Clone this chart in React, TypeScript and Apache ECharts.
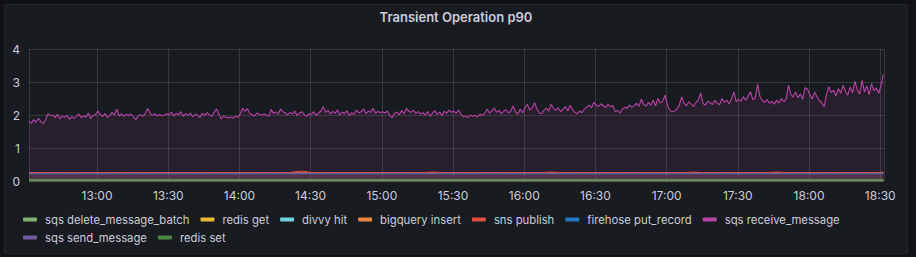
import React, { useEffect, useRef } from "react";
import * as echarts from "echarts";

// ---- data ----
const TITLE = "Transient Operation p90";
const SERIES_NAMES = [
  "sqs delete_message_batch",
  "redis get",
  "divvy hit",
  "bigquery insert",
  "sns publish",
  "firehose put_record",
  "sqs receive_message",
  "sqs send_message",
  "redis set",
];
const SERIES_COLORS = [
  "#7EB26D",
  "#EAB839",
  "#6ED0E0",
  "#EF843C",
  "#E24D42",
  "#1F78C1",
  "#BA43A9",
  "#705DA0",
  "#508642",
];
const Y_TICKS = [0, 1, 2, 3, 4];

// sqs receive_message, one value per minute starting 12:31:20
const receiveMessage = [
  // 12:31 - 12:59
  1.82, 1.75, 1.86, 1.78, 1.9, 1.8, 1.74, 1.85, 2.04, 1.98, 2.0, 1.92, 2.02, 1.88, 1.97, 1.93, 1.99, 1.87, 1.95, 1.9, 1.96, 2.03, 1.91, 1.98, 1.94, 2.06, 1.89, 1.99, 2.01,
  // 13:00
  2.12, 2.02, 1.95, 2.05, 1.93, 1.98, 2.08, 2.0, 2.18, 1.97, 2.04, 1.96, 2.02, 1.99, 2.03, 1.94, 1.86, 1.98, 2.01, 1.96, 2.05, 2.2, 2.06, 1.99, 2.04, 1.97, 2.02, 1.98, 2.0, 2.03,
  // 13:30
  2.02, 2.08, 1.97, 2.05, 2.01, 2.1, 1.96, 2.04, 1.99, 2.06, 1.94, 2.03, 2.0, 1.92, 2.05, 1.98, 2.07, 2.01, 1.95, 2.09, 2.18, 2.03, 1.88, 1.97, 1.93, 1.92, 1.94, 1.91, 1.96, 1.93,
  // 14:00
  2.04, 2.2, 2.12, 2.19, 2.05, 2.01, 1.97, 2.06, 2.02, 1.99, 2.04, 2.0, 1.96, 2.17, 2.05, 2.09, 2.02, 2.18, 2.1, 2.06, 2.0, 2.08, 2.03, 2.12, 1.98, 2.06, 2.1, 2.01, 1.96, 2.04,
  // 14:30
  2.02, 2.1, 1.99, 2.06, 2.12, 2.25, 2.08, 2.14, 2.03, 2.11, 2.05, 2.16, 2.0, 2.09, 2.04, 2.13, 1.98, 2.07, 2.02, 2.15, 2.06, 2.1, 2.18, 2.04, 2.12, 2.08, 2.2, 2.05, 2.11, 2.07,
  // 15:00
  2.1, 2.06, 2.12, 1.98, 1.92, 2.05, 2.09, 2.0, 2.14, 2.03, 2.2, 2.12, 2.08, 2.15, 2.05, 2.1, 2.03, 2.07, 2.0, 2.11, 1.96, 2.06, 2.13, 2.02, 2.09, 1.98, 2.12, 2.05, 2.15, 2.08,
  // 15:30
  2.12, 2.05, 2.15, 2.02, 1.95, 1.97, 1.92, 2.0, 1.96, 1.99, 1.94, 2.03, 1.98, 2.05, 2.18, 2.06, 2.12, 2.22, 2.08, 2.14, 2.04, 2.11, 2.16, 2.06, 2.12, 2.27, 2.09, 2.03, 2.18, 2.06,
  // 16:00
  2.24, 2.32, 2.15, 2.22, 2.37, 2.18, 2.06, 2.04, 2.15, 2.21, 2.12, 2.33, 2.19, 2.14, 2.22, 2.1, 2.17, 2.26, 2.13, 2.3, 2.16, 2.08, 2.04, 2.12, 2.07, 2.18, 2.24, 2.3, 2.22, 2.38,
  // 16:30
  2.3, 2.26, 2.34, 2.28, 2.22, 2.32, 2.25, 2.29, 2.1, 2.14, 2.06, 2.18, 2.24, 2.2, 2.3, 2.23, 2.28, 2.35, 2.26, 2.48, 2.32, 2.27, 2.38, 2.3, 2.45, 2.28, 2.5, 2.36, 2.42, 2.6,
  // 17:00
  2.3, 2.14, 2.1, 2.12, 2.18, 2.3, 2.55, 2.36, 2.28, 2.4, 2.33, 2.26, 2.38, 2.45, 2.67, 2.35, 2.3, 2.42, 2.37, 2.32, 2.44, 2.36, 2.31, 2.5, 2.38, 2.45, 2.34, 2.48, 2.7, 2.4,
  // 17:30
  2.48, 2.42, 2.55, 2.44, 2.58, 2.7, 2.46, 2.52, 2.93, 2.56, 2.44, 2.38, 2.47, 2.35, 2.42, 2.33, 2.45, 2.36, 2.5, 2.4, 2.48, 2.9, 2.62, 2.55, 2.7, 2.52, 2.64, 2.48, 2.83, 2.78,
  // 18:00
  2.62, 2.48, 2.7, 2.55, 2.44, 2.38, 2.25, 2.62, 2.86, 2.68, 2.75, 2.58, 2.8, 2.66, 2.9, 2.72, 2.6, 2.85, 2.68, 3.02, 2.76, 2.64, 3.05, 2.7, 2.88, 2.62, 2.95, 2.74, 2.82, 2.66,
  // 18:30
  2.9, 3.24,
];

// sns publish, one value every 5 minutes starting 12:31:20
const snsPublish = [
  0.26, 0.25, 0.26, 0.25, 0.25, 0.26, 0.25, 0.25, 0.26, 0.25,
  0.25, 0.26, 0.25, 0.26, 0.25, 0.25, 0.26, 0.25, 0.25, 0.25,
  0.26, 0.25, 0.26, 0.3, 0.25, 0.25, 0.26, 0.25, 0.25, 0.26,
  0.25, 0.26, 0.25, 0.25, 0.27, 0.25, 0.26, 0.25, 0.25, 0.26,
  0.25, 0.25, 0.26, 0.25, 0.27, 0.25, 0.25, 0.26, 0.25, 0.26,
  0.25, 0.26, 0.25, 0.25, 0.26, 0.25, 0.27, 0.25, 0.26, 0.25,
  0.25, 0.26, 0.25, 0.27, 0.25, 0.26, 0.25, 0.25, 0.26, 0.25,
  0.26, 0.25, 0.27,
];

// flat series, one value every 30 minutes starting 12:31:20
const deleteMessageBatch = [0.05, 0.05, 0.05, 0.05, 0.05, 0.05, 0.05, 0.05, 0.05, 0.05, 0.05, 0.05, 0.05];
const redisGet = [0.0, 0.0, 0.0, 0.0, 0.0, 0.0, 0.0, 0.0, 0.0, 0.0, 0.0, 0.0, 0.0];
const divvyHit = [0.01, 0.01, 0.01, 0.01, 0.01, 0.01, 0.01, 0.01, 0.01, 0.01, 0.01, 0.01, 0.01];
const bigqueryInsert = [0.25, 0.25, 0.25, 0.25, 0.25, 0.25, 0.25, 0.25, 0.25, 0.25, 0.25, 0.25, 0.25];
const firehosePutRecord = [0.23, 0.23, 0.23, 0.23, 0.23, 0.23, 0.23, 0.23, 0.23, 0.23, 0.23, 0.23, 0.23];
const sendMessage = [0.22, 0.22, 0.22, 0.22, 0.22, 0.22, 0.22, 0.22, 0.22, 0.22, 0.22, 0.22, 0.22];
const redisSet = [0.03, 0.03, 0.03, 0.03, 0.03, 0.03, 0.03, 0.03, 0.03, 0.03, 0.03, 0.03, 0.03];

const START = new Date(2021, 5, 1, 12, 31, 20).getTime();
const END = new Date(2021, 5, 1, 18, 31, 35).getTime();
const MIN = 60 * 1000;

function toPairs(values: number[], stepMinutes: number) {
  return values.map((v, i) => [START + i * stepMinutes * MIN, v]);
}

const SERIES_DATA: [number[], number][] = [
  [deleteMessageBatch, 30],
  [redisGet, 30],
  [divvyHit, 30],
  [bigqueryInsert, 30],
  [snsPublish, 5],
  [firehosePutRecord, 30],
  [receiveMessage, 1],
  [sendMessage, 30],
  [redisSet, 30],
];

const FONT = "Inter, 'Noto Sans', sans-serif";
const TEXT = "#ccccdc";
const GRID_LINE = "rgba(204,204,220,0.16)";

export default function App() {
  const ref = useRef<HTMLDivElement>(null);

  useEffect(() => {
    document.body.style.margin = "0";
    document.body.style.background = "#111217";
    if (!ref.current) return;
    const chart = echarts.init(ref.current, undefined, { renderer: "svg" });

    const series = SERIES_NAMES.map((name, idx) => ({
      name,
      type: "line",
      data: toPairs(SERIES_DATA[idx][0], SERIES_DATA[idx][1]),
      showSymbol: false,
      symbol: "none",
      color: SERIES_COLORS[idx],
      lineStyle: { width: idx === 6 ? 1.1 : 1, color: SERIES_COLORS[idx] },
      areaStyle: { color: SERIES_COLORS[idx], opacity: 0.1 },
      z: 2 + idx,
    }));

    const legendCommon = {
      orient: "horizontal",
      left: 23,
      padding: 0,
      icon: "roundRect",
      itemWidth: 14,
      itemHeight: 4,
      itemGap: 11,
      textStyle: { color: TEXT, fontSize: 11.3, fontFamily: FONT, padding: [0, 0, 0, 3] },
      selectedMode: false,
    };

    chart.setOption({
      animation: false,
      backgroundColor: "transparent",
      title: {
        text: TITLE,
        left: 456,
        textAlign: "center",
        top: 10,
        padding: 0,
        textStyle: { color: TEXT, fontSize: 13, fontWeight: 600, fontFamily: FONT },
      },
      legend: [
        { ...legendCommon, top: 214, data: SERIES_NAMES.slice(0, 7) },
        { ...legendCommon, top: 232, data: SERIES_NAMES.slice(7) },
      ],
      grid: { left: 29, right: 32, top: 49, bottom: 76, containLabel: false },
      xAxis: {
        type: "time",
        min: START,
        max: END,
        splitNumber: 12,
        axisLine: { show: false },
        axisTick: { show: false },
        axisLabel: {
          color: TEXT,
          fontSize: 12,
          fontFamily: FONT,
          margin: 8,
          formatter: "{HH}:{mm}",
          showMinLabel: false,
          showMaxLabel: false,
        },
        splitLine: { show: true, lineStyle: { color: GRID_LINE, width: 1 } },
      },
      yAxis: {
        type: "value",
        min: Y_TICKS[0],
        max: Y_TICKS[Y_TICKS.length - 1],
        interval: 1,
        axisLine: { show: false },
        axisTick: { show: false },
        axisLabel: { color: TEXT, fontSize: 12, fontFamily: FONT, margin: 9 },
        splitLine: { show: true, lineStyle: { color: GRID_LINE, width: 1 } },
      },
      series,
    });

    return () => chart.dispose();
  }, []);

  return (
    <div style={{ position: "relative", width: 916, height: 257, background: "#111217" }}>
      <div
        style={{
          position: "absolute",
          left: 4,
          top: 4,
          width: 902,
          height: 248,
          background: "#181b1f",
          border: "1px solid rgba(204,204,220,0.07)",
          borderRadius: 2,
        }}
      />
      <div ref={ref} style={{ position: "absolute", left: 0, top: 0, width: 916, height: 257 }} />
    </div>
  );
}
